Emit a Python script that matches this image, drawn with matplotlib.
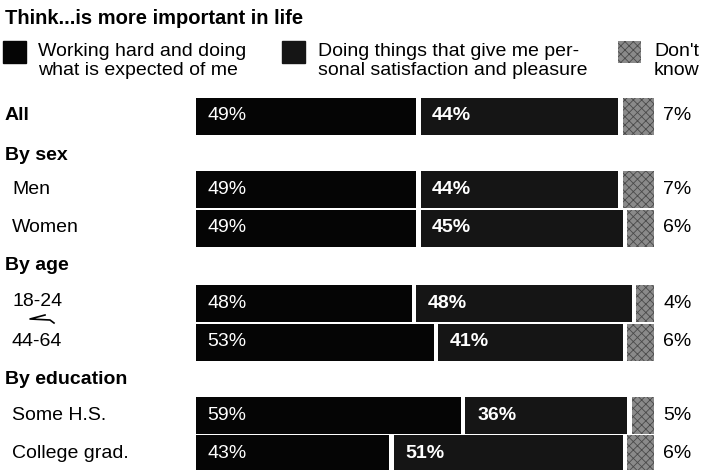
import matplotlib
matplotlib.use("Agg")
import matplotlib.pyplot as plt

plt.rcParams['font.family'] = ['Liberation Sans', 'DejaVu Sans']
plt.rcParams['hatch.linewidth'] = 0.6

# data
groups = ["All", "Men", "Women", "18-24", "44-64", "Some H.S.", "College grad."]
working = [49, 49, 49, 48, 53, 59, 43]
doing = [44, 44, 45, 48, 41, 36, 51]
dont_know = [7, 7, 6, 4, 6, 5, 6]
sections = ["By sex", "By age", "By education"]
legend_labels = ["Working hard and doing\nwhat is expected of me",
                 "Doing things that give me per-\nsonal satisfaction and pleasure",
                 "Don't\nknow"]

# layout (pixel rows, top = 0)
row_y = [116, 189, 228, 303, 342, 415, 453]
section_y = [155, 266, 379]
bar_h = 37
gap = 0.9
c_work, c_doing, c_dk = "#050505", "#151515", "#8a8a8a"

fig = plt.figure(figsize=(7.07, 4.7), dpi=100)

# background axes in pixel units for text
bg = fig.add_axes([0, 0, 1, 1])
bg.set_xlim(0, 707)
bg.set_ylim(470, 0)
bg.axis("off")

ax = fig.add_axes([196 / 707, 0, 458 / 707, 1])
ax.set_xlim(0, 100 + 2 * gap)
ax.set_ylim(470, 0)
ax.axis("off")

left2 = [w + gap for w in working]
left3 = [w + d + 2 * gap for w, d in zip(working, doing)]
ax.barh(row_y, working, height=bar_h, left=0, color=c_work)
ax.barh(row_y, doing, height=bar_h, left=left2, color=c_doing)
ax.barh(row_y, dont_know, height=bar_h, left=left3, facecolor=c_dk,
        edgecolor="#4a4a4a", hatch="xxxx", linewidth=0)

for y, w, d, l2, k in zip(row_y, working, doing, left2, dont_know):
    ax.text(2.6, y, f"{w}%", color="white", fontsize=14, va="center")
    ax.text(l2 + 2.6, y, f"{d}%", color="white", fontsize=14,
            fontweight="bold", va="center")
    bg.text(663, y, f"{k}%", color="black", fontsize=14, va="center")

# title and legend
bg.text(5, 18, "Think...is more important in life", fontsize=14.5,
        fontweight="bold", va="center")
sq_style = [dict(color=c_work), dict(color=c_doing),
            dict(facecolor=c_dk, edgecolor="#4a4a4a", hatch="xxxx", linewidth=0)]
for x_sq, x_txt, st, lab in zip([3, 282, 618], [38, 318, 654],
                                sq_style, legend_labels):
    bg.add_patch(plt.Rectangle((x_sq, 41), 23, 22, **st))
    bg.text(x_txt, 61, lab, fontsize=14, va="center", linespacing=1.12)

# row labels
bg.text(5, row_y[0], groups[0], fontsize=14, fontweight="bold", va="center")
for name, y in zip(groups[1:], row_y[1:]):
    dy = -2 if name in ("18-24",) else 0
    bg.text(12, y + dy, name, fontsize=14, va="center")
for name, y in zip(sections, section_y):
    bg.text(5, y, name, fontsize=14, fontweight="bold", va="center")

# little squiggle between the age groups
bg.plot([45, 30, 50, 54], [315, 319, 320, 323], color="black", lw=1.2)

fig.savefig("out.png", dpi=100)
